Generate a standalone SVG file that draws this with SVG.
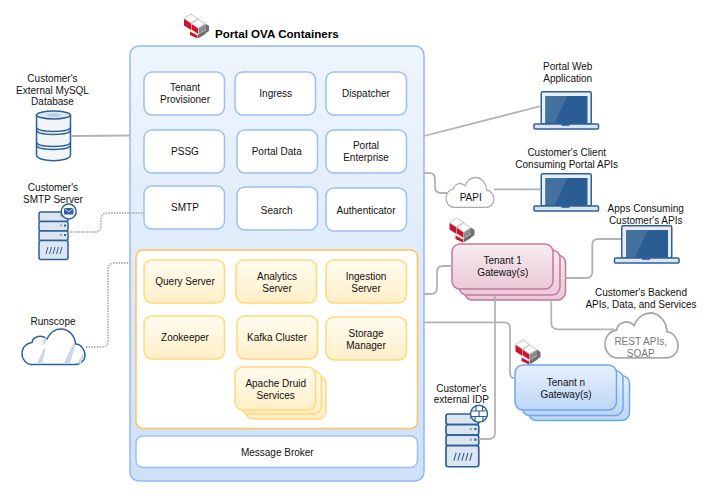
<svg xmlns="http://www.w3.org/2000/svg" width="707" height="499" viewBox="0 0 707 499">
<style>
text{font-family:"Liberation Sans",Arial,sans-serif;font-size:10px;fill:#111;text-anchor:middle}
.title{font-size:11.6px;font-weight:bold;text-anchor:start;fill:#000}
.svc{fill:#fff;stroke:#9cc0f0;stroke-width:1.5}
.org{fill:url(#gOrg);stroke:#ffd878;stroke-width:1.5}
.pink{fill:url(#gPink);stroke:#c5769f;stroke-width:1.5}
.blue{fill:url(#gBlue);stroke:#6fa6ee;stroke-width:1.5}
.conn{fill:none;stroke:#b3b3b3;stroke-width:1.8}
.dot{fill:none;stroke:#b3b3b3;stroke-width:1.8;stroke-dasharray:1.5 1.2}
.ic{fill:#dde6f0;stroke:#2d6098;stroke-width:1.5}
.ic2{fill:#f1f5f9;stroke:#2d6098;stroke-width:1.5}
.scr{fill:#2a5d93}
.cl{fill:#fff;stroke:#2d6098;stroke-width:1.5;vector-effect:non-scaling-stroke}
.clg{fill:#fff;stroke:#aaa;stroke-width:1.5;vector-effect:non-scaling-stroke}
</style>
<defs>
<linearGradient id="gOuter" x1="0" y1="0" x2="0" y2="1"><stop offset="0" stop-color="#eff5fd"/><stop offset="1" stop-color="#cfe0f8"/></linearGradient>
<linearGradient id="gOrg" x1="0" y1="0" x2="0" y2="1"><stop offset="0" stop-color="#fffcf0"/><stop offset="1" stop-color="#ffefc8"/></linearGradient>
<linearGradient id="gPink" x1="0" y1="0" x2="0" y2="1"><stop offset="0" stop-color="#f9ebf1"/><stop offset="1" stop-color="#e9c9d7"/></linearGradient>
<linearGradient id="gBlue" x1="0" y1="0" x2="0" y2="1"><stop offset="0" stop-color="#e6f0fc"/><stop offset="1" stop-color="#bdd6f6"/></linearGradient>
<path id="cloud" d="M11 35.600C4 35.600 0 30 0 25C0 18 5 14 10 13.500C11 7 20 5 25 10C28 3 34 0 39 0C47 0 53 7 53.500 15C59 15 63 21 63 26C63 32 58 35.600 53 35.600Z"/>
<g id="logo">
<path d="M7 0L14 4.500L7 9L0 4.500Z" fill="#fff" stroke="#b5b5b5" stroke-width="0.800"/>
<path d="M0 5L7 9.500V16L0 11.500Z" fill="#d0112b"/>
<path d="M14 5L21 9.500L14 14L7.500 9.500Z" fill="#fff" stroke="#b5b5b5" stroke-width="0.800"/>
<path d="M7.500 10L14 14.500V20L7.500 15.500Z" fill="#d0112b"/>
<path d="M14.500 14.500L21.500 10V15.500L14.500 20Z" fill="#8a8a8a"/>
<path d="M21.500 9.500L25 12V17L21.500 19.500Z" fill="#6e6e6e"/>
<path d="M6 17.500L13.500 21.500V24.500L6 21Z" fill="#d0112b"/>
<path d="M6 17L7.500 16L13.500 19.500V21Z" fill="#e3e3e3"/>
<path d="M14 20.500L21.500 16V20L14 24.500Z" fill="#6e6e6e"/>
</g>
<g id="laptop">
<rect x="0.750" y="0.750" width="50" height="32" rx="1.500" fill="#e8eef5" stroke="#2d6098" stroke-width="1.500"/>
<rect x="5" y="5" width="42" height="27" class="scr"/>
<path d="M5 5H27L14 32H5Z" fill="#44709f"/>
<rect x="-6.500" y="33" width="64.500" height="5" rx="1" fill="#dde6f0" stroke="#2d6098" stroke-width="1.500"/>
<rect x="21" y="33" width="8" height="1.800" fill="#2d6098"/>
</g>
<g id="server">
<rect x="0" y="0" width="29" height="9.500" rx="2" class="ic"/>
<rect x="0" y="9.500" width="29" height="9.500" rx="2" class="ic"/>
<rect x="0" y="19" width="29" height="9.500" rx="2" class="ic"/>
<rect x="0" y="28.500" width="29" height="19" rx="2" class="ic"/>
<path d="M21 3.500h2M21 13.500h2M21 23h2" stroke="#8fa9c6" stroke-width="2"/>
<path d="M25 13.500h2M25 23h2" stroke="#2d6098" stroke-width="2"/>
<path d="M7 42L9 35M10.500 42L12.500 35M14 42L16 35M17.500 42L19.500 35M21 42L23 35" stroke="#2d6098" stroke-width="1"/>
</g>
</defs>

<g id="portal-container"><rect x="130" y="46" width="294" height="435" rx="9" fill="url(#gOuter)" stroke="#94b9ef" stroke-width="1.500"/></g>
<g id="portal-title"><use href="#logo" x="184" y="14"/><text class="title" x="215" y="37.500">Portal OVA Containers</text></g>

<g id="tenant-provisioner"><rect class="svc" x="144" y="72" width="80.500" height="43" rx="8"/><text x="185" y="91">Tenant</text><text x="185" y="103">Provisioner</text></g>
<g id="ingress"><rect class="svc" x="235" y="72" width="80.500" height="43" rx="8"/><text x="275.700" y="97">Ingress</text></g>
<g id="dispatcher"><rect class="svc" x="326" y="72" width="80.500" height="43" rx="8"/><text x="366" y="97">Dispatcher</text></g>
<g id="pssg"><rect class="svc" x="144" y="130" width="80.500" height="43" rx="8"/><text x="185" y="155">PSSG</text></g>
<g id="portal-data"><rect class="svc" x="237" y="130" width="80.500" height="43" rx="8"/><text x="276.700" y="155">Portal Data</text></g>
<g id="portal-enterprise"><rect class="svc" x="326" y="130" width="80.500" height="43" rx="8"/><text x="366" y="149">Portal</text><text x="366" y="161">Enterprise</text></g>
<g id="smtp"><rect class="svc" x="144" y="186" width="80.500" height="43" rx="8"/><text x="185" y="211">SMTP</text></g>
<g id="search"><rect class="svc" x="237" y="187" width="80.500" height="43" rx="8"/><text x="276.700" y="213.500">Search</text></g>
<g id="authenticator"><rect class="svc" x="326" y="188" width="80.500" height="43" rx="8"/><text x="366" y="214">Authenticator</text></g>

<g id="analytics-container"><rect x="136" y="250" width="281.500" height="178.500" rx="7" fill="#fff" stroke="#fbc55c" stroke-width="1.500"/></g>
<g id="query-server"><rect class="org" x="144" y="260" width="80.500" height="43" rx="8"/><text x="185" y="285">Query Server</text></g>
<g id="analytics-server"><rect class="org" x="236" y="260" width="80.500" height="43" rx="8"/><text x="277" y="280">Analytics</text><text x="277" y="292">Server</text></g>
<g id="ingestion-server"><rect class="org" x="326" y="260" width="80.500" height="43" rx="8"/><text x="366" y="280">Ingestion</text><text x="366" y="292">Server</text></g>
<g id="zookeeper"><rect class="org" x="144" y="316" width="80.500" height="43" rx="8"/><text x="185" y="341">Zookeeper</text></g>
<g id="kafka-cluster"><rect class="org" x="237" y="316" width="80.500" height="43" rx="8"/><text x="277" y="341">Kafka Cluster</text></g>
<g id="storage-manager"><rect class="org" x="326" y="317" width="80.500" height="43" rx="8"/><text x="366" y="337">Storage</text><text x="366" y="349">Manager</text></g>
<g id="druid">
<rect class="org" x="245.500" y="376" width="80.500" height="43" rx="8"/>
<rect class="org" x="241" y="371" width="80.500" height="43" rx="8"/>
<rect class="org" x="235" y="367" width="80.500" height="43" rx="8"/>
<text x="275.700" y="387">Apache Druid</text><text x="275.700" y="399">Services</text></g>
<g id="message-broker"><rect class="svc" x="136" y="436" width="281.500" height="31.500" rx="7"/><text x="277.300" y="456">Message Broker</text></g>

<g id="mysql">
<text x="52.500" y="82">Customer's</text><text x="52.500" y="94">External MySQL</text><text x="52.500" y="105">Database</text>
<path class="ic2" d="M36.500 115V155C36.500 162.500 70.500 162.500 70.500 155V115Z"/>
<path d="M36.500 127C36.500 133 70.500 133 70.500 127M36.500 130C36.500 136 70.500 136 70.500 130M36.500 142C36.500 148 70.500 148 70.500 142M36.500 145C36.500 151 70.500 151 70.500 145" fill="none" stroke="#2d6098" stroke-width="1.300"/>
<ellipse class="ic" cx="53.500" cy="115" rx="17" ry="4"/>
<ellipse cx="53.500" cy="115" rx="7" ry="1.800" fill="#b9cce0"/>
</g>
<g id="smtp-server">
<text x="53" y="191">Customer's</text><text x="53" y="203">SMTP Server</text>
<use href="#server" x="39" y="212"/>
<circle cx="68.700" cy="211.500" r="7.500" fill="#fff" stroke="#2d6098" stroke-width="1.500"/>
<rect x="64" y="208" width="9.500" height="6.500" rx="0.800" fill="#2d6098"/>
<path d="M64.500 208.500L68.700 212L73 208.500" fill="none" stroke="#fff" stroke-width="0.800"/>
</g>
<g id="runscope">
<text x="53" y="325">Runscope</text>
<use href="#cloud" x="22" y="329" class="cl"/>
<path d="M37 363.500H42L45.500 350L44 348ZM42 346L45.500 343L47 335L44 339ZM63.500 363.500H70L75 346L73.500 343ZM77.500 363.500H81L83.500 356L83 353Z" fill="#c9d7e7"/>
</g>
<g id="portal-web">
<text x="567.700" y="70">Portal Web</text><text x="567.700" y="82">Application</text>
<use href="#laptop" x="540.500" y="91"/>
</g>
<g id="client">
<text x="566.700" y="155.700">Customer's Client</text><text x="566.700" y="167.700">Consuming Portal APIs</text>
<use href="#laptop" x="540.500" y="173"/>
</g>
<g id="papi">
<use href="#cloud" class="clg" transform="translate(446 177.500) scale(0.76 0.84)"/>
<text x="470.700" y="200.700">PAPI</text>
</g>
<g id="apps">
<text x="645.700" y="211.700">Apps Consuming</text><text x="645.700" y="223.700">Customer's APIs</text>
<use href="#laptop" x="621" y="225"/>
</g>
<g id="tenant-1">
<use href="#logo" x="449.500" y="218"/>
<rect class="pink" x="464.500" y="255" width="101" height="45" rx="8"/>
<rect class="pink" x="459" y="250" width="101" height="45" rx="8"/>
<rect class="pink" x="452" y="244" width="101" height="45" rx="8"/>
<text x="502.700" y="264">Tenant 1</text><text x="502.700" y="276">Gateway(s)</text>
</g>
<g id="tenant-n">
<use href="#logo" x="515.500" y="340"/>
<rect class="blue" x="528.500" y="375.500" width="101" height="45" rx="8"/>
<rect class="blue" x="522" y="370.500" width="101" height="45" rx="8"/>
<rect class="blue" x="515" y="365" width="101.500" height="45" rx="8"/>
<text x="566" y="386">Tenant n</text><text x="566" y="398">Gateway(s)</text>
</g>
<g id="backend">
<text x="641" y="296">Customer's Backend</text><text x="641" y="308">APIs, Data, and Services</text>
<use href="#cloud" class="clg" transform="translate(605 313) scale(1.160 1.260)"/>
<text x="640.700" y="344.700" style="fill:#777">REST APIs,</text><text x="640.700" y="356.700" style="fill:#777">SOAP</text>
</g>
<g id="idp">
<text x="461.300" y="392">Customer's</text><text x="461.300" y="403.300">external IDP</text>
<use href="#server" transform="translate(446 414) scale(1.130 1.110)"/>
<circle cx="479" cy="413.700" r="8.500" fill="#fff" stroke="#2d6098" stroke-width="1.500"/>
<path d="M471 411H487M471 416.500H487M476 405.500V411M482.500 405.500V411M479 411V416.500M475 416.500V422M483 416.500V422" stroke="#2d6098" stroke-width="1.200" fill="none"/>
</g>

<g id="connectors">
<path class="conn" d="M71.500 136L130 135.500"/>
<path class="dot" d="M68 232H95Q101 232 101 226V220Q101 213 108 213H144"/>
<path class="dot" d="M86 347H101Q108 347 108 340V270Q108 263 115 263H130"/>
<path class="conn" d="M424 136L541 106"/>
<path class="conn" d="M424 173H429Q435 173 435 179V187Q435 193 441 193H447"/>
<path class="conn" d="M494 189.300H541"/>
<path class="conn" d="M424 294H431Q437 294 437 288V272Q437 266 443 266H452"/>
<path class="conn" d="M424 322.300H504Q510 322.300 510 328V372Q510 378 514 378H515"/>
<path class="conn" d="M495 296V433Q495 439 489 439H479"/>
<path class="conn" d="M565.500 278H586Q592.300 278 592.300 272V245Q592.300 239 598 239H621"/>
<path class="conn" d="M551.300 300V323Q551.300 329.300 558 329.300H614"/>
</g>
</svg>
